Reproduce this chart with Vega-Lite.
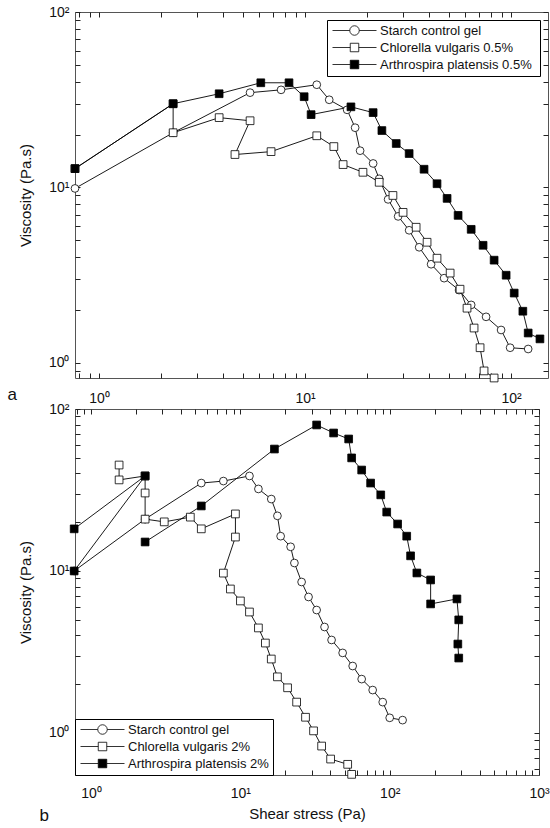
{
  "$schema": "https://vega.github.io/schema/vega-lite/v6.json",
  "padding": {"left": 6, "top": 4, "right": 4, "bottom": 0},
  "background": "white",
  "bounds": "flush",
  "spacing": 31,
  "resolve": {"scale": {"shape": "independent", "fill": "independent", "stroke": "independent", "x": "independent", "y": "independent"}, "legend": {"shape": "independent", "fill": "independent", "stroke": "independent"}},
  "config": {
    "view": {"stroke": "#555", "strokeWidth": 1},
    "axis": {
      "grid": false,
      "ticks": true,
      "domain": false,
      "offset": -5,
      "tickSize": 5,
      "tickColor": "#222",
      "tickWidth": 1,
      "tickOpacity": 1,
      "zindex": 1,
      "labelColor": "#111",
      "labelFont": "Liberation Sans",
      "labelFontSize": 14,
      "titleFont": "Liberation Sans",
      "titleFontSize": 15,
      "titleFontWeight": "normal",
      "titleColor": "#111",
      "labelOverlap": false,
      "labelFlush": false
    },
    "legend": {
      "strokeColor": "black",
      "fillColor": "white",
      "padding": 4,
      "cornerRadius": 0,
      "labelFont": "Liberation Sans",
      "labelFontSize": 13,
      "labelColor": "#111",
      "symbolSize": 100,
      "symbolStrokeColor": "black",
      "symbolStrokeWidth": 0.8,
      "labelOffset": 36,
      "rowPadding": 3,
      "labelLimit": 300
    }
  },
  "datasets": {
    "a": [
      {"s": "Starch control gel", "x": 0.765, "y": 9.87},
      {"s": "Starch control gel", "x": 2.29, "y": 20.5},
      {"s": "Starch control gel", "x": 5.41, "y": 34.7},
      {"s": "Starch control gel", "x": 7.65, "y": 36},
      {"s": "Starch control gel", "x": 11.4, "y": 38.5},
      {"s": "Starch control gel", "x": 13.1, "y": 31.6},
      {"s": "Starch control gel", "x": 16.0, "y": 27.7},
      {"s": "Starch control gel", "x": 17.5, "y": 21.9},
      {"s": "Starch control gel", "x": 18.5, "y": 16.2},
      {"s": "Starch control gel", "x": 21.4, "y": 13.7},
      {"s": "Starch control gel", "x": 22.9, "y": 11.2},
      {"s": "Starch control gel", "x": 25.3, "y": 8.55},
      {"s": "Starch control gel", "x": 28.3, "y": 6.84},
      {"s": "Starch control gel", "x": 32, "y": 5.7},
      {"s": "Starch control gel", "x": 35.8, "y": 4.56},
      {"s": "Starch control gel", "x": 40.9, "y": 3.65},
      {"s": "Starch control gel", "x": 47.3, "y": 3.04},
      {"s": "Starch control gel", "x": 55.9, "y": 2.6},
      {"s": "Starch control gel", "x": 64, "y": 2.14},
      {"s": "Starch control gel", "x": 75.6, "y": 1.83},
      {"s": "Starch control gel", "x": 89.4, "y": 1.54},
      {"s": "Starch control gel", "x": 98.9, "y": 1.22},
      {"s": "Starch control gel", "x": 121, "y": 1.2},
      {"s": "Chlorella vulgaris 0.5%", "x": 0.765, "y": 12.8},
      {"s": "Chlorella vulgaris 0.5%", "x": 2.29, "y": 30},
      {"s": "Chlorella vulgaris 0.5%", "x": 2.29, "y": 20.5},
      {"s": "Chlorella vulgaris 0.5%", "x": 3.83, "y": 25.0},
      {"s": "Chlorella vulgaris 0.5%", "x": 5.41, "y": 24.0},
      {"s": "Chlorella vulgaris 0.5%", "x": 4.57, "y": 15.4},
      {"s": "Chlorella vulgaris 0.5%", "x": 6.84, "y": 16.0},
      {"s": "Chlorella vulgaris 0.5%", "x": 11.4, "y": 19.7},
      {"s": "Chlorella vulgaris 0.5%", "x": 13.8, "y": 17.1},
      {"s": "Chlorella vulgaris 0.5%", "x": 15.3, "y": 13.5},
      {"s": "Chlorella vulgaris 0.5%", "x": 19.1, "y": 12.2},
      {"s": "Chlorella vulgaris 0.5%", "x": 22.9, "y": 10.7},
      {"s": "Chlorella vulgaris 0.5%", "x": 26.7, "y": 9.0},
      {"s": "Chlorella vulgaris 0.5%", "x": 29.9, "y": 7.21},
      {"s": "Chlorella vulgaris 0.5%", "x": 34.6, "y": 5.93},
      {"s": "Chlorella vulgaris 0.5%", "x": 39.1, "y": 4.87},
      {"s": "Chlorella vulgaris 0.5%", "x": 43.7, "y": 3.95},
      {"s": "Chlorella vulgaris 0.5%", "x": 50.6, "y": 3.25},
      {"s": "Chlorella vulgaris 0.5%", "x": 56.5, "y": 2.63},
      {"s": "Chlorella vulgaris 0.5%", "x": 61.1, "y": 2.05},
      {"s": "Chlorella vulgaris 0.5%", "x": 66.1, "y": 1.58},
      {"s": "Chlorella vulgaris 0.5%", "x": 70.7, "y": 1.22},
      {"s": "Chlorella vulgaris 0.5%", "x": 73.9, "y": 0.9},
      {"s": "Chlorella vulgaris 0.5%", "x": 82.7, "y": 0.82},
      {"s": "Arthrospira  platensis 0.5%", "x": 0.765, "y": 12.8},
      {"s": "Arthrospira  platensis 0.5%", "x": 2.29, "y": 30},
      {"s": "Arthrospira  platensis 0.5%", "x": 3.83, "y": 34.2},
      {"s": "Arthrospira  platensis 0.5%", "x": 6.1, "y": 39.5},
      {"s": "Arthrospira  platensis 0.5%", "x": 8.36, "y": 39.5},
      {"s": "Arthrospira  platensis 0.5%", "x": 9.9, "y": 32.9},
      {"s": "Arthrospira  platensis 0.5%", "x": 10.7, "y": 26.0},
      {"s": "Arthrospira  platensis 0.5%", "x": 16.7, "y": 28.8},
      {"s": "Arthrospira  platensis 0.5%", "x": 21.4, "y": 26.7},
      {"s": "Arthrospira  platensis 0.5%", "x": 23.6, "y": 21.1},
      {"s": "Arthrospira  platensis 0.5%", "x": 27.7, "y": 17.8},
      {"s": "Arthrospira  platensis 0.5%", "x": 32, "y": 15.6},
      {"s": "Arthrospira  platensis 0.5%", "x": 37.8, "y": 12.7},
      {"s": "Arthrospira  platensis 0.5%", "x": 43.7, "y": 10.5},
      {"s": "Arthrospira  platensis 0.5%", "x": 48.9, "y": 8.66},
      {"s": "Arthrospira  platensis 0.5%", "x": 55.3, "y": 6.93},
      {"s": "Arthrospira  platensis 0.5%", "x": 64, "y": 5.77},
      {"s": "Arthrospira  platensis 0.5%", "x": 73.1, "y": 4.68},
      {"s": "Arthrospira  platensis 0.5%", "x": 82.7, "y": 3.85},
      {"s": "Arthrospira  platensis 0.5%", "x": 94.6, "y": 3.16},
      {"s": "Arthrospira  platensis 0.5%", "x": 103.5, "y": 2.5},
      {"s": "Arthrospira  platensis 0.5%", "x": 114, "y": 1.97},
      {"s": "Arthrospira  platensis 0.5%", "x": 121, "y": 1.48},
      {"s": "Arthrospira  platensis 0.5%", "x": 138, "y": 1.37}
    ],
    "b": [
      {"s": "Starch control gel", "k": 1, "x": 0.77, "y": 10},
      {"s": "Starch control gel", "k": 1, "x": 2.3, "y": 20.9},
      {"s": "Starch control gel", "k": 1, "x": 5.47, "y": 34.9},
      {"s": "Starch control gel", "k": 1, "x": 7.69, "y": 35.9},
      {"s": "Starch control gel", "k": 1, "x": 11.5, "y": 38.6},
      {"s": "Starch control gel", "k": 1, "x": 13.2, "y": 32.1},
      {"s": "Starch control gel", "k": 1, "x": 16.1, "y": 27.8},
      {"s": "Starch control gel", "k": 1, "x": 17.7, "y": 21.9},
      {"s": "Starch control gel", "k": 1, "x": 18.6, "y": 16.4},
      {"s": "Starch control gel", "k": 1, "x": 21.7, "y": 14.1},
      {"s": "Starch control gel", "k": 1, "x": 23.0, "y": 11.2},
      {"s": "Starch control gel", "k": 1, "x": 25.7, "y": 8.55},
      {"s": "Starch control gel", "k": 1, "x": 28.6, "y": 6.91},
      {"s": "Starch control gel", "k": 1, "x": 32.4, "y": 5.74},
      {"s": "Starch control gel", "k": 1, "x": 36.6, "y": 4.51},
      {"s": "Starch control gel", "k": 1, "x": 40.8, "y": 3.75},
      {"s": "Starch control gel", "k": 1, "x": 48.4, "y": 3.12},
      {"s": "Starch control gel", "k": 1, "x": 56.5, "y": 2.59},
      {"s": "Starch control gel", "k": 1, "x": 64.9, "y": 2.15},
      {"s": "Starch control gel", "k": 1, "x": 76.9, "y": 1.84},
      {"s": "Starch control gel", "k": 1, "x": 89.8, "y": 1.55},
      {"s": "Starch control gel", "k": 1, "x": 100, "y": 1.24},
      {"s": "Starch control gel", "k": 1, "x": 122, "y": 1.2},
      {"s": "Chlorella vulgaris 2%", "k": 1, "x": 1.54, "y": 45.1},
      {"s": "Chlorella vulgaris 2%", "k": 1, "x": 1.54, "y": 36.5},
      {"s": "Chlorella vulgaris 2%", "k": 1, "x": 2.3, "y": 38.6},
      {"s": "Chlorella vulgaris 2%", "k": 1, "x": 2.3, "y": 30.3},
      {"s": "Chlorella vulgaris 2%", "k": 1, "x": 2.3, "y": 20.9},
      {"s": "Chlorella vulgaris 2%", "k": 1, "x": 3.09, "y": 20.1},
      {"s": "Chlorella vulgaris 2%", "k": 1, "x": 4.62, "y": 21.5},
      {"s": "Chlorella vulgaris 2%", "k": 1, "x": 5.47, "y": 18.2},
      {"s": "Chlorella vulgaris 2%", "k": 1, "x": 9.26, "y": 22.5},
      {"s": "Chlorella vulgaris 2%", "k": 1, "x": 9.26, "y": 16.2},
      {"s": "Chlorella vulgaris 2%", "k": 1, "x": 7.69, "y": 9.7},
      {"s": "Chlorella vulgaris 2%", "k": 1, "x": 8.57, "y": 7.74},
      {"s": "Chlorella vulgaris 2%", "k": 1, "x": 10, "y": 6.53},
      {"s": "Chlorella vulgaris 2%", "k": 1, "x": 11.5, "y": 5.58},
      {"s": "Chlorella vulgaris 2%", "k": 1, "x": 13.2, "y": 4.45},
      {"s": "Chlorella vulgaris 2%", "k": 1, "x": 14.7, "y": 3.59},
      {"s": "Chlorella vulgaris 2%", "k": 1, "x": 16.1, "y": 2.86},
      {"s": "Chlorella vulgaris 2%", "k": 1, "x": 17.7, "y": 2.22},
      {"s": "Chlorella vulgaris 2%", "k": 1, "x": 20.7, "y": 1.9},
      {"s": "Chlorella vulgaris 2%", "k": 1, "x": 23.8, "y": 1.55},
      {"s": "Chlorella vulgaris 2%", "k": 1, "x": 27.3, "y": 1.25},
      {"s": "Chlorella vulgaris 2%", "k": 1, "x": 30.9, "y": 1.03},
      {"s": "Chlorella vulgaris 2%", "k": 1, "x": 35, "y": 0.83},
      {"s": "Chlorella vulgaris 2%", "k": 1, "x": 40.2, "y": 0.69},
      {"s": "Chlorella vulgaris 2%", "k": 1, "x": 52.3, "y": 0.64},
      {"s": "Chlorella vulgaris 2%", "k": 1, "x": 55.6, "y": 0.555},
      {"s": "Arthrospira platensis 2%", "k": 1, "x": 0.77, "y": 18.2},
      {"s": "Arthrospira platensis 2%", "k": 1, "x": 2.3, "y": 38.6},
      {"s": "Arthrospira platensis 2%", "k": 1, "x": 0.77, "y": 10},
      {"s": "Arthrospira platensis 2%", "k": 2, "x": 2.3, "y": 15.1},
      {"s": "Arthrospira platensis 2%", "k": 2, "x": 5.47, "y": 25.2},
      {"s": "Arthrospira platensis 2%", "k": 2, "x": 16.9, "y": 56.6},
      {"s": "Arthrospira platensis 2%", "k": 2, "x": 32.4, "y": 79.7},
      {"s": "Arthrospira platensis 2%", "k": 2, "x": 42.1, "y": 71.1},
      {"s": "Arthrospira platensis 2%", "k": 2, "x": 53.1, "y": 65.3},
      {"s": "Arthrospira platensis 2%", "k": 2, "x": 55.6, "y": 49.9},
      {"s": "Arthrospira platensis 2%", "k": 2, "x": 64.9, "y": 42.0},
      {"s": "Arthrospira platensis 2%", "k": 2, "x": 74.5, "y": 34.9},
      {"s": "Arthrospira platensis 2%", "k": 2, "x": 87.1, "y": 29.5},
      {"s": "Arthrospira platensis 2%", "k": 2, "x": 95.5, "y": 23.1},
      {"s": "Arthrospira platensis 2%", "k": 2, "x": 113, "y": 19.5},
      {"s": "Arthrospira platensis 2%", "k": 2, "x": 130, "y": 16.4},
      {"s": "Arthrospira platensis 2%", "k": 2, "x": 138, "y": 12.4},
      {"s": "Arthrospira platensis 2%", "k": 2, "x": 152, "y": 9.72},
      {"s": "Arthrospira platensis 2%", "k": 2, "x": 188, "y": 8.8},
      {"s": "Arthrospira platensis 2%", "k": 2, "x": 188, "y": 6.26},
      {"s": "Arthrospira platensis 2%", "k": 2, "x": 282, "y": 6.72},
      {"s": "Arthrospira platensis 2%", "k": 2, "x": 290, "y": 4.99},
      {"s": "Arthrospira platensis 2%", "k": 2, "x": 286, "y": 3.54},
      {"s": "Arthrospira platensis 2%", "k": 2, "x": 290, "y": 2.9}
    ]
  },
  "vconcat": [
    {
      "width": 473,
      "height": 366,
      "data": {"name": "a"},
      "resolve": {"axis": {"x": "independent", "y": "independent"}, "scale": {"shape": "independent", "fill": "independent", "stroke": "independent"}, "legend": {"shape": "independent", "fill": "independent", "stroke": "independent"}},
      "layer": [
        {
          "mark": {"type": "line", "color": "black", "strokeWidth": 0.9},
          "encoding": {
            "x": {"field": "x", "type": "quantitative",
              "scale": {"type": "log", "domain": [0.765, 151], "nice": false},
              "axis": {"orient": "bottom", "labelPadding": 13,
                "title": "a", "titleX": -68, "titleY": 21, "titleAlign": "left", "titleBaseline": "middle", "titleFontSize": 17,
                "values": [0.8, 0.9, 1, 2, 3, 4, 5, 6, 7, 8, 9, 10, 20, 30, 40, 50, 60, 70, 80, 90, 100],
                "labelExpr": "abs(log(datum.value)/LN10 - round(log(datum.value)/LN10)) < 0.001 ? (datum.value < 5 ? '10⁰' : datum.value < 50 ? '10¹' : datum.value < 500 ? '10²' : '10³') : ''"}},
            "y": {"field": "y", "type": "quantitative",
              "scale": {"type": "log", "domain": [0.82, 100], "nice": false},
              "axis": {"orient": "left", "title": "Viscosity (Pa.s)", "labelPadding": 6, "titlePadding": 15,
                "values": [0.9, 1, 2, 3, 4, 5, 6, 7, 8, 9, 10, 20, 30, 40, 50, 60, 70, 80, 90, 100],
                "labelExpr": "abs(log(datum.value)/LN10 - round(log(datum.value)/LN10)) < 0.001 ? (datum.value < 5 ? '10⁰' : datum.value < 50 ? '10¹' : datum.value < 500 ? '10²' : '10³') : ''"}},
            "detail": {"field": "s"},
            "order": {"value": null}
          }
        },
        {
          "mark": {"type": "point", "stroke": "black", "strokeWidth": 0.8, "opacity": 1},
          "encoding": {
            "x": {"field": "x", "type": "quantitative",
              "scale": {"type": "log", "domain": [0.765, 151], "nice": false},
              "axis": {"orient": "top", "title": null, "labels": false,
                "values": [0.8, 0.9, 1, 2, 3, 4, 5, 6, 7, 8, 9, 10, 20, 30, 40, 50, 60, 70, 80, 90, 100]}},
            "y": {"field": "y", "type": "quantitative",
              "scale": {"type": "log", "domain": [0.82, 100], "nice": false},
              "axis": {"orient": "right", "title": null, "labels": false,
                "values": [0.9, 1, 2, 3, 4, 5, 6, 7, 8, 9, 10, 20, 30, 40, 50, 60, 70, 80, 90, 100]}},
            "shape": {"field": "s", "type": "nominal", "legend": null,
              "scale": {"domain": ["Starch control gel", "Chlorella vulgaris 0.5%", "Arthrospira  platensis 0.5%"], "range": ["circle", "square", "square"]}},
            "fill": {"field": "s", "type": "nominal", "legend": null,
              "scale": {"domain": ["Starch control gel", "Chlorella vulgaris 0.5%", "Arthrospira  platensis 0.5%"], "range": ["white", "white", "black"]}},
            "size": {"value": 60}
          }
        },
        {
          "transform": [{"filter": "false"}],
          "mark": {"type": "point", "strokeWidth": 0.8, "opacity": 1},
          "encoding": {
            "shape": {"field": "s", "type": "nominal",
              "scale": {"domain": ["Starch control gel", "Chlorella vulgaris 0.5%", "Arthrospira  platensis 0.5%"],
                "range": ["M-1,0H2.45M4.35,0H7.8M2.45,0A0.95,0.95 0 1 1 4.35,0A0.95,0.95 0 1 1 2.45,0", "M-1,0H2.55M4.25,0H7.8M2.55,-0.85H4.25V0.85H2.55Z", "M-1,0H2.55M4.25,0H7.8M2.55,-0.85H4.25V0.85H2.55Z"]},
              "legend": {"title": null, "orient": "top-right", "offset": 8, "labelFontSize": 13}},
            "fill": {"field": "s", "type": "nominal",
              "scale": {"domain": ["Starch control gel", "Chlorella vulgaris 0.5%", "Arthrospira  platensis 0.5%"], "range": ["white", "white", "black"]},
              "legend": {"title": null, "orient": "top-right", "offset": 8, "labelFontSize": 13}},
            "stroke": {"field": "s", "type": "nominal",
              "scale": {"domain": ["Starch control gel", "Chlorella vulgaris 0.5%", "Arthrospira  platensis 0.5%"], "range": ["black", "black", "black"]},
              "legend": {"title": null, "orient": "top-right", "offset": 8, "labelFontSize": 13}}
          }
        }
      ]
    },
    {
      "width": 464,
      "height": 366,
      "data": {"name": "b"},
      "resolve": {"axis": {"x": "independent", "y": "independent"}, "scale": {"shape": "independent", "fill": "independent", "stroke": "independent"}, "legend": {"shape": "independent", "fill": "independent", "stroke": "independent"}},
      "layer": [
        {
          "mark": {"type": "line", "color": "black", "strokeWidth": 0.9},
          "encoding": {
            "x": {"field": "x", "type": "quantitative",
              "scale": {"type": "log", "domain": [0.78, 1000], "nice": false},
              "axis": {"orient": "bottom", "title": "Shear stress (Pa)", "labelPadding": 11, "titlePadding": 6,
                "values": [0.8, 0.9, 1, 2, 3, 4, 5, 6, 7, 8, 9, 10, 20, 30, 40, 50, 60, 70, 80, 90, 100, 200, 300, 400, 500, 600, 700, 800, 900, 1000],
                "labelExpr": "abs(log(datum.value)/LN10 - round(log(datum.value)/LN10)) < 0.001 ? (datum.value < 5 ? '10⁰' : datum.value < 50 ? '10¹' : datum.value < 500 ? '10²' : '10³') : ''"}},
            "y": {"field": "y", "type": "quantitative",
              "scale": {"type": "log", "domain": [0.55, 100], "nice": false},
              "axis": {"orient": "left", "title": "Viscosity (Pa.s)", "labelPadding": 6, "titlePadding": 15,
                "values": [0.6, 0.7, 0.8, 0.9, 1, 2, 3, 4, 5, 6, 7, 8, 9, 10, 20, 30, 40, 50, 60, 70, 80, 90, 100],
                "labelExpr": "abs(log(datum.value)/LN10 - round(log(datum.value)/LN10)) < 0.001 ? (datum.value < 5 ? '10⁰' : datum.value < 50 ? '10¹' : datum.value < 500 ? '10²' : '10³') : ''"}},
            "detail": [{"field": "s"}, {"field": "k"}],
            "order": {"value": null}
          }
        },
        {
          "mark": {"type": "point", "stroke": "black", "strokeWidth": 0.8, "opacity": 1},
          "encoding": {
            "x": {"field": "x", "type": "quantitative",
              "scale": {"type": "log", "domain": [0.78, 1000], "nice": false},
              "axis": {"orient": "top", "labels": false,
                "title": "b", "titleX": -36, "titleY": 401, "titleAlign": "left", "titleBaseline": "middle", "titleFontSize": 17,
                "values": [0.8, 0.9, 1, 2, 3, 4, 5, 6, 7, 8, 9, 10, 20, 30, 40, 50, 60, 70, 80, 90, 100, 200, 300, 400, 500, 600, 700, 800, 900, 1000]}},
            "y": {"field": "y", "type": "quantitative",
              "scale": {"type": "log", "domain": [0.55, 100], "nice": false},
              "axis": {"orient": "right", "title": null, "labels": false,
                "values": [0.6, 0.7, 0.8, 0.9, 1, 2, 3, 4, 5, 6, 7, 8, 9, 10, 20, 30, 40, 50, 60, 70, 80, 90, 100]}},
            "shape": {"field": "s", "type": "nominal", "legend": null,
              "scale": {"domain": ["Starch control gel", "Chlorella vulgaris 2%", "Arthrospira platensis 2%"], "range": ["circle", "square", "square"]}},
            "fill": {"field": "s", "type": "nominal", "legend": null,
              "scale": {"domain": ["Starch control gel", "Chlorella vulgaris 2%", "Arthrospira platensis 2%"], "range": ["white", "white", "black"]}},
            "size": {"value": 60}
          }
        },
        {
          "transform": [{"filter": "false"}],
          "mark": {"type": "point", "strokeWidth": 0.8, "opacity": 1},
          "encoding": {
            "shape": {"field": "s", "type": "nominal",
              "scale": {"domain": ["Starch control gel", "Chlorella vulgaris 2%", "Arthrospira platensis 2%"],
                "range": ["M-1,0H2.45M4.35,0H7.8M2.45,0A0.95,0.95 0 1 1 4.35,0A0.95,0.95 0 1 1 2.45,0", "M-1,0H2.55M4.25,0H7.8M2.55,-0.85H4.25V0.85H2.55Z", "M-1,0H2.55M4.25,0H7.8M2.55,-0.85H4.25V0.85H2.55Z"]},
              "legend": {"title": null, "orient": "bottom-left", "offset": 0, "labelFontSize": 13}},
            "fill": {"field": "s", "type": "nominal",
              "scale": {"domain": ["Starch control gel", "Chlorella vulgaris 2%", "Arthrospira platensis 2%"], "range": ["white", "white", "black"]},
              "legend": {"title": null, "orient": "bottom-left", "offset": 0, "labelFontSize": 13}},
            "stroke": {"field": "s", "type": "nominal",
              "scale": {"domain": ["Starch control gel", "Chlorella vulgaris 2%", "Arthrospira platensis 2%"], "range": ["black", "black", "black"]},
              "legend": {"title": null, "orient": "bottom-left", "offset": 0, "labelFontSize": 13}}
          }
        }
      ]
    }
  ]
}
